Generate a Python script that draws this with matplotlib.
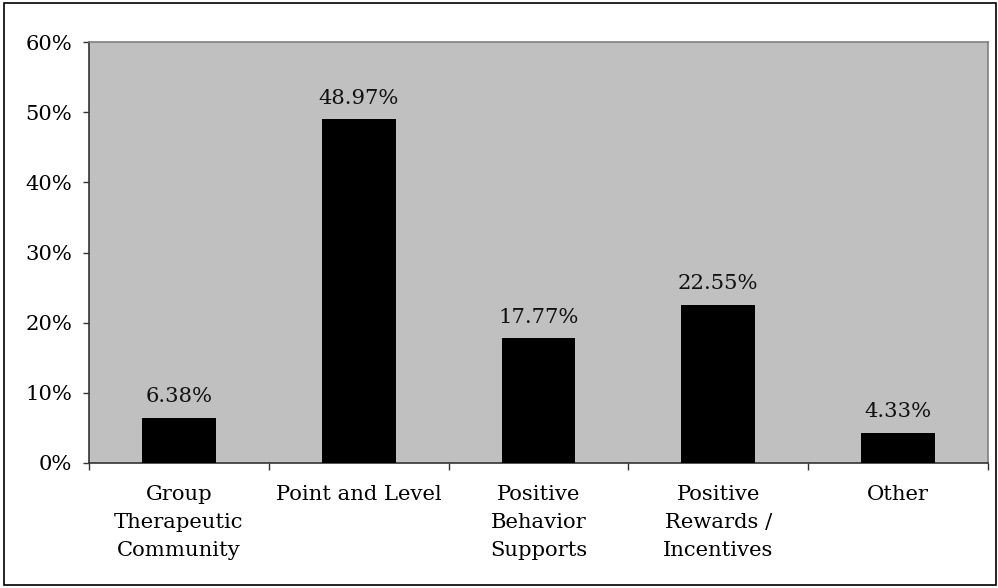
import matplotlib
matplotlib.use("Agg")
import matplotlib.pyplot as plt
from matplotlib.patches import Rectangle
from matplotlib.ticker import FixedLocator

categories = ["Group\nTherapeutic\nCommunity", "Point and Level",
              "Positive\nBehavior\nSupports", "Positive\nRewards /\nIncentives",
              "Other"]
values = [6.38, 48.97, 17.77, 22.55, 4.33]
y_ticks = [0, 10, 20, 30, 40, 50, 60]

plt.rcParams["font.family"] = ["DejaVu Serif"]
FS = 15.2

fig = plt.figure(figsize=(9.98, 5.88), dpi=100)
ax = fig.add_axes([89 / 998, 1 - 463 / 588, (988 - 89) / 998, (463 - 42) / 588])
ax.set_facecolor("#C0C0C0")

x = list(range(len(values)))
bars = ax.bar(x, values, width=0.41, color="black", zorder=3)
for xi, v in zip(x, values):
    ax.annotate(f"{v:.2f}%", (xi, v), xytext=(0, 8.5), textcoords="offset points",
                ha="center", va="bottom", fontsize=FS, color="#111111")

ax.set_xlim(-0.5, len(values) - 0.5)
ax.set_ylim(0, 60)
ax.set_yticks(y_ticks)
ax.set_yticklabels([f"{t}%" for t in y_ticks], fontsize=FS)
ax.tick_params(axis="y", direction="out", length=4.5, width=1, pad=7.5, color="#333333")

# category labels centred, tick marks on category boundaries
ax.set_xticks(x)
ax.set_xticklabels(categories, fontsize=FS, linespacing=1.62, va="top")
ax.tick_params(axis="x", which="major", length=0, pad=15.5)
ax.xaxis.set_minor_locator(FixedLocator([i - 0.5 for i in range(len(values) + 1)]))
ax.tick_params(axis="x", which="minor", direction="out", length=5, width=1, color="#333333")

for side in ("left", "bottom"):
    ax.spines[side].set_color("#333333")
    ax.spines[side].set_linewidth(1.2)
for side in ("top", "right"):
    ax.spines[side].set_color("#808080")
    ax.spines[side].set_linewidth(1.2)

# outer frame around the whole chart
fig.patches.append(Rectangle((4 / 998, 3 / 588), 992 / 998, 582 / 588,
                             transform=fig.transFigure, fill=False,
                             edgecolor="black", linewidth=1.2))

fig.savefig("out.png", dpi=100)
